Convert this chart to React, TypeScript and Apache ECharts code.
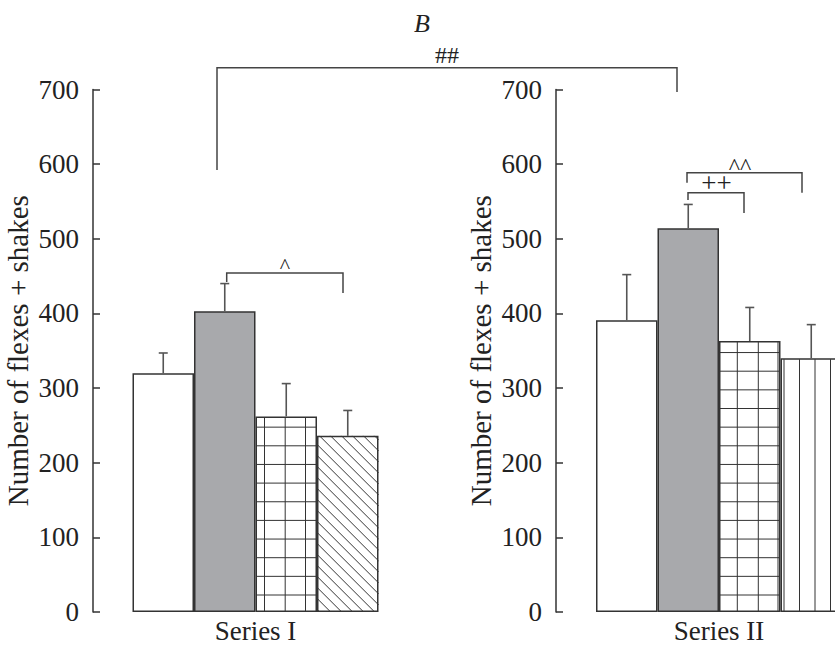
import React, { useEffect, useRef } from 'react';
import * as echarts from 'echarts';

// ---------- data ----------
const panelNames = ['Series I', 'Series II'];
const seriesIMean = [320, 403, 262, 236];
const seriesISem = [27, 37, 44, 34];
const seriesIIMean = [391, 514, 363, 340];
const seriesIISem = [61, 32, 45, 45];
const yAxisTitle = 'Number of flexes + shakes';
const yMin = 0;
const yMax = 700;
const yStep = 100;
const panelLetter = 'B';
const sigBetween = '##';
const sigSeriesI = '^';
const sigSeriesIIPlus = '++';
const sigSeriesIICaret = '^^';

// ---------- style ----------
const FONT = '"Liberation Serif", "Times New Roman", serif';
const TEXT = '#222';
const LINE = '#333';
const ERR = '#555';
const BAR_W = 61.5;
const GRID_TOP = 89.5;
const GRID_H = 522.5;
const fills = ['#ffffff', '#a8a9ac', '#ffffff', '#ffffff'];
const patterns = [
  ['none', 'none', 'grid', 'diag'],
  ['none', 'none', 'grid', 'vert'],
];
const gridVOffsets = [
  [9, 29.7, 50],
  [18.3, 39.3, 59],
];

function makeRender(panel: number) {
  return (params: any, api: any) => {
    const g = params.dataIndex;
    const val = api.value(1);
    const sem = api.value(2);
    const base = api.coord([0, 0]);
    const top = api.coord([0, val]);
    const err = api.coord([0, val + sem]);
    const left = base[0] - 2 * BAR_W + g * BAR_W;
    const w = BAR_W;
    const T = top[1];
    const B = base[1];
    const h = B - T;
    const children: any[] = [];
    const ln = (x1: number, y1: number, x2: number, y2: number, stroke: string, lw: number) =>
      children.push({ type: 'line', silent: true, shape: { x1, y1, x2, y2 }, style: { stroke, lineWidth: lw } });
    const kind = patterns[panel][g];
    if (kind === 'grid') {
      gridVOffsets[panel].forEach((o) => ln(left + o, T + 1, left + o, B - 1, LINE, 1));
      for (let y = B - 17; y > T + 2; y -= 18.65) ln(left + 1, y, left + w - 1, y, LINE, 1);
    } else if (kind === 'vert') {
      for (let o = 3.5; o < w - 1; o += 15.5) ln(left + o, T + 1, left + o, B - 1, LINE, 1);
    } else if (kind === 'diag') {
      const step = 11;
      for (let c = -w + 4; c < h; c += step) {
        const u0 = Math.max(0, -c);
        const u1 = Math.min(w, h - c);
        if (u1 > u0 + 0.5) ln(left + u0, T + u0 + c, left + u1, T + u1 + c, LINE, 1);
      }
    }
    const cx = left + w / 2;
    ln(cx, T, cx, err[1], ERR, 1.6);
    ln(cx - 4.5, err[1], cx + 4.5, err[1], ERR, 1.6);
    return { type: 'group', children };
  };
}

const bracket = (pts: number[][]) => ({
  type: 'polyline',
  silent: true,
  shape: { points: pts },
  style: { stroke: '#444', lineWidth: 1.5, fill: 'none' },
});
const label = (text: string, x: number, y: number, size: number, italic = false) => ({
  type: 'text',
  silent: true,
  style: {
    text,
    x,
    y,
    font: `${italic ? 'italic ' : ''}${size}px ${FONT}`,
    fill: TEXT,
    textAlign: 'center',
    textVerticalAlign: 'middle',
  },
});

export default function App() {
  const ref = useRef<HTMLDivElement>(null);
  useEffect(() => {
    if (!ref.current) return;
    const chart = echarts.init(ref.current, undefined, { renderer: 'svg' });
    const means = [seriesIMean, seriesIIMean];
    const sems = [seriesISem, seriesIISem];
    const series: any[] = [];
    [0, 1].forEach((p) => {
      means[p].forEach((m, i) => {
        series.push({
          type: 'bar',
          xAxisIndex: p,
          yAxisIndex: p,
          data: [m],
          barWidth: BAR_W,
          barGap: '0%',
          silent: true,
          itemStyle: { color: fills[i], borderColor: LINE, borderWidth: 1.5 },
        });
      });
      series.push({
        type: 'custom',
        xAxisIndex: p,
        yAxisIndex: p,
        z: 5,
        silent: true,
        renderItem: makeRender(p),
        encode: { x: 0, y: 1 },
        data: means[p].map((m, i) => [0, m, sems[p][i]]),
      });
    });
    const yAxis = (p: number) => ({
      gridIndex: p,
      type: 'value',
      min: yMin,
      max: yMax,
      interval: yStep,
      axisLine: { show: true, lineStyle: { color: LINE, width: 1.5 } },
      axisTick: { show: true, inside: true, length: 7, lineStyle: { color: LINE, width: 1.5 } },
      splitLine: { show: false },
      axisLabel: { fontSize: 27, fontFamily: FONT, color: TEXT, margin: 14 },
      name: yAxisTitle,
      nameLocation: 'middle',
      nameRotate: 90,
      nameGap: 61,
      nameTextStyle: { fontSize: 29, fontFamily: FONT, color: TEXT },
    });
    const xAxis = (p: number) => ({
      gridIndex: p,
      type: 'category',
      data: [panelNames[p]],
      axisLine: { show: false },
      axisTick: { show: false },
      axisLabel: { fontSize: 27, fontFamily: FONT, color: TEXT, margin: 5 },
    });
    chart.setOption({
      animation: false,
      backgroundColor: '#ffffff',
      grid: [
        { left: 93, top: GRID_TOP, width: 325, height: GRID_H, outerBoundsMode: 'none', containLabel: false },
        { left: 556, top: GRID_TOP, width: 326, height: GRID_H, outerBoundsMode: 'none', containLabel: false },
      ],
      xAxis: [xAxis(0), xAxis(1)],
      yAxis: [yAxis(0), yAxis(1)],
      series,
      graphic: {
        elements: [
          label(panelLetter, 422, 23, 26, true),
          label(sigBetween, 447, 55, 24),
          bracket([[217, 170], [217, 67.7], [677, 67.7], [677, 92]]),
          label(sigSeriesI, 285, 265, 22),
          bracket([[226.7, 282], [226.7, 273], [343, 273], [343, 293]]),
          label(sigSeriesIIPlus, 716.5, 183, 27),
          bracket([[688, 200], [688, 192.7], [744, 192.7], [744, 213]]),
          label(sigSeriesIICaret, 740, 166, 24),
          bracket([[687, 182.7], [687, 172.7], [802, 172.7], [802, 192.7]]),
        ],
      },
    });
    return () => chart.dispose();
  }, []);
  return <div ref={ref} style={{ position: 'absolute', left: 0, top: 0, width: 835, height: 646 }} />;
}
